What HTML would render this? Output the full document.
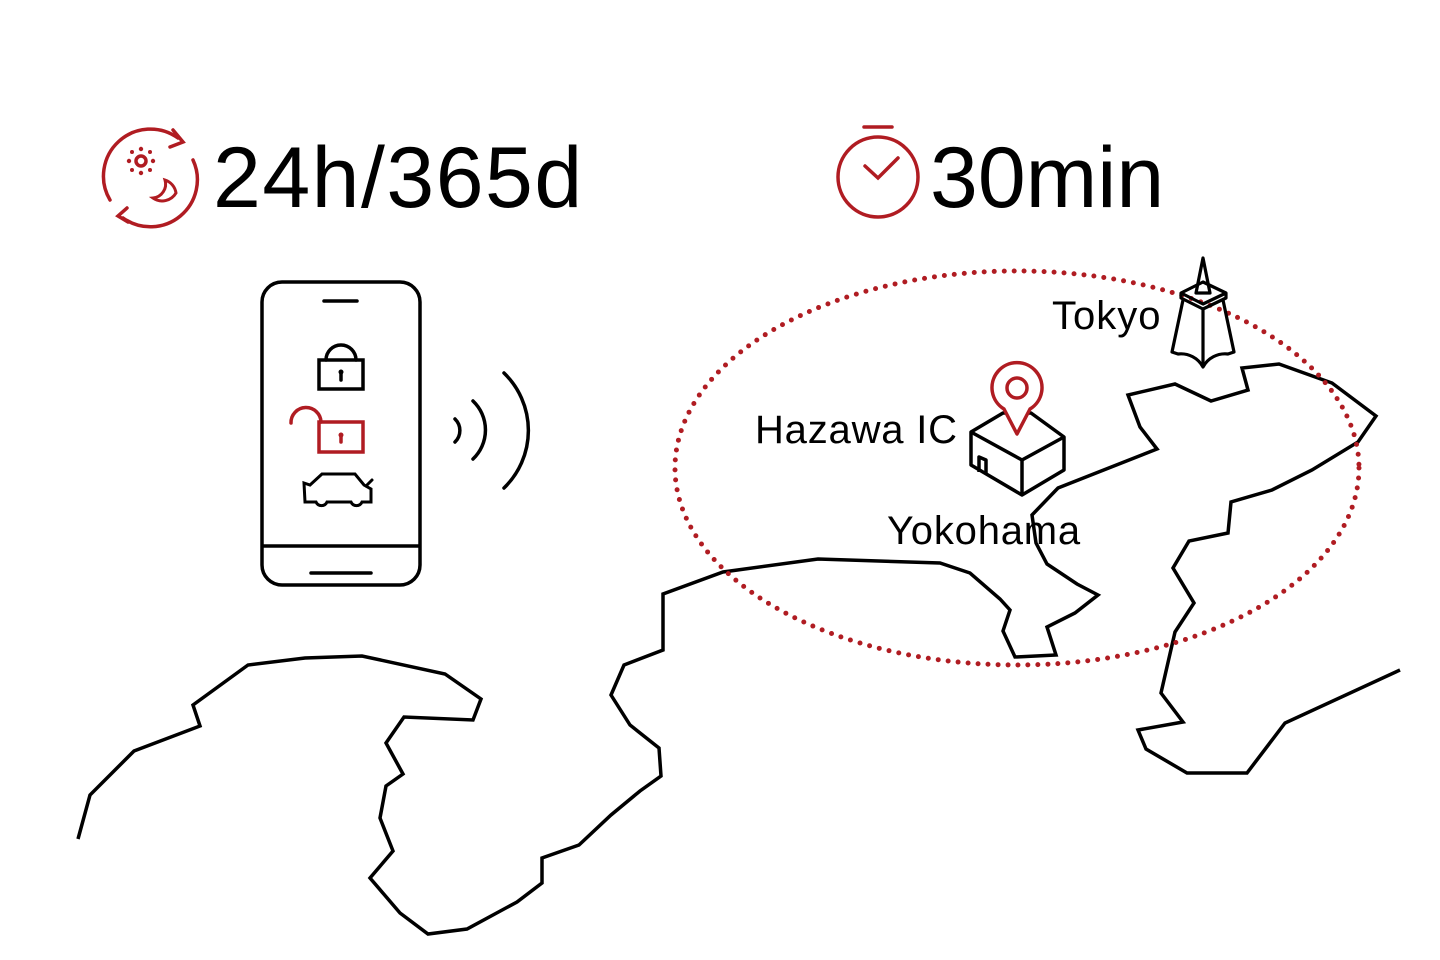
<!DOCTYPE html>
<html><head><meta charset="utf-8"><style>
html,body{margin:0;padding:0;background:#fff}
svg{display:block}
text{font-family:"Liberation Sans",Arial,sans-serif;fill:#000}
</style></head><body>
<svg width="1440" height="960" viewBox="0 0 1440 960" xmlns="http://www.w3.org/2000/svg">
<polyline fill="none" stroke="#000" stroke-width="3.5" stroke-linejoin="miter" points="78,839 90,795 134,751 200,726 193,705 248,665 305,658 362,656 445,674 481,699 473,720 404,717 386,743 403,774 386,786 380,818 393,851 370,878 400,913 428,934 467,929 517,902 542,883 542,858 579,845 611,815 640,791 661,776 659,748 630,725 611,695 624,665 663,650 663,594 723,572 818,559 940,563 970,573 1000,599 1010,610 1003,631 1015,657 1056,655 1047,627 1075,613 1098,595 1077,584 1047,564 1036,543 1032,515 1058,488 1157,449 1140,427 1128,395 1175,384 1211,401 1248,390 1242,368 1279,364 1332,383 1376,416 1358,442 1312,470 1272,490 1231,502 1228,533 1189,541 1173,568 1194,603 1175,632 1161,693 1183,722 1138,730 1146,749 1187,773 1247,773 1285,723 1400,670"/>
<ellipse cx="1017" cy="468" rx="342" ry="197" fill="none" stroke="#b01c22" stroke-width="5" stroke-linecap="round" stroke-dasharray="0 10"/>
<g fill="none" stroke="#b01c22" stroke-width="3.5" stroke-linecap="round">
<path d="M110,200 A47,47 0 0 1 178,138"/>
<path d="M173,130 L183,142 L170,147"/>
<path d="M193,160 A47,47 0 0 1 123,218"/>
<path d="M127,208 L118,216 L128,222"/>
<circle cx="141" cy="161" r="5"/>
<path d="M165,180 A14,14 0 0 1 153,198 A16,16 0 0 0 176,193 A16,16 0 0 0 165,180 Z" stroke-width="3"/>
</g>
<g fill="#b01c22">
<circle cx="141" cy="149" r="2.2"/><circle cx="141" cy="173" r="2.2"/>
<circle cx="129" cy="161" r="2.2"/><circle cx="153" cy="161" r="2.2"/>
<circle cx="132" cy="152" r="2"/><circle cx="150" cy="152" r="2"/>
<circle cx="132" cy="170" r="2"/><circle cx="150" cy="170" r="2"/>
</g>
<text x="213" y="207" font-size="86" letter-spacing="1.5">24h/365d</text>
<g fill="none" stroke="#b01c22" stroke-width="3.5" stroke-linecap="round">
<circle cx="878" cy="177" r="40"/>
<line x1="864" y1="127" x2="892" y2="127"/>
<polyline points="865,166 878,178 898,158"/>
</g>
<text x="930" y="207" font-size="86">30min</text>
<g fill="none" stroke="#000" stroke-width="3.5" stroke-linecap="round">
<rect x="262" y="282" width="158" height="303" rx="20"/>
<line x1="263" y1="546" x2="419" y2="546"/>
<line x1="324" y1="301" x2="357" y2="301"/>
<line x1="311" y1="573" x2="371" y2="573"/>
<rect x="319" y="360" width="44" height="29" stroke-linecap="butt"/>
<path d="M326,360 A15,15 0 0 1 356,360"/>
<path d="M304,483 L310,485 L322,474 L355,474 L364,485 L371,489 L371,502 L362,502 A6,6 0 0 1 351,502 L327,502 A6,6 0 0 1 316,502 L305,502 Z" stroke-width="3"/>
<line x1="366" y1="486" x2="372" y2="480" stroke-width="3"/>
<path d="M455,419 A16,16 0 0 1 455,442"/>
<path d="M473,401 A40,40 0 0 1 473,459"/>
<path d="M504,373 A80,80 0 0 1 504,488"/>
</g>
<line x1="341" y1="372" x2="341" y2="380" stroke="#000" stroke-width="3.5" stroke-linecap="round"/>
<circle cx="341" cy="372" r="2.5" fill="#000"/>
<g fill="none" stroke="#b01c22" stroke-width="3.5" stroke-linecap="round">
<rect x="319" y="422" width="44" height="30" stroke-linecap="butt"/>
<path d="M291,423 A15,15 0 0 1 321,422"/>
<line x1="341" y1="435" x2="341" y2="442"/>
</g>
<circle cx="341" cy="435" r="2.5" fill="#b01c22"/>
<g fill="none" stroke="#000" stroke-width="3.2" stroke-linejoin="round">
<path d="M1203,258 L1196,293 L1210,293 Z"/>
<path d="M1181,293 L1203,282 L1226,293 L1226,298 L1203,309 L1181,298 Z"/>
<path d="M1181,293 L1203,304 L1226,293"/>
<path d="M1183,300 L1172,352 L1178,354 A25,25 0 0 1 1203,367 A25,25 0 0 1 1228,354 L1234,352 L1223,300"/>
<line x1="1203" y1="309" x2="1203" y2="367"/>
</g>
<g fill="none" stroke="#000" stroke-width="3.5" stroke-linejoin="round">
<path d="M971,432 L1003,413 L1031,413 L1064,437 L1064,470 L1022,495 L971,465 Z"/>
<path d="M971,432 L1022,460 L1064,437"/>
<line x1="1022" y1="460" x2="1022" y2="495"/>
<path d="M979,472 L979,457 L986,460 L986,474"/>
</g>
<g fill="none" stroke="#b01c22" stroke-width="3.5" stroke-linejoin="round">
<path d="M1004,409 A25,25 0 1 1 1030,409 L1017,434 Z" fill="#fff"/>
<circle cx="1017" cy="388" r="10"/>
</g>
<text x="1052" y="329" font-size="40" letter-spacing="1">Tokyo</text>
<text x="755" y="443" font-size="40" letter-spacing="0.8">Hazawa IC</text>
<text x="887" y="544" font-size="40" letter-spacing="0.8">Yokohama</text>
</svg>
</body></html>
